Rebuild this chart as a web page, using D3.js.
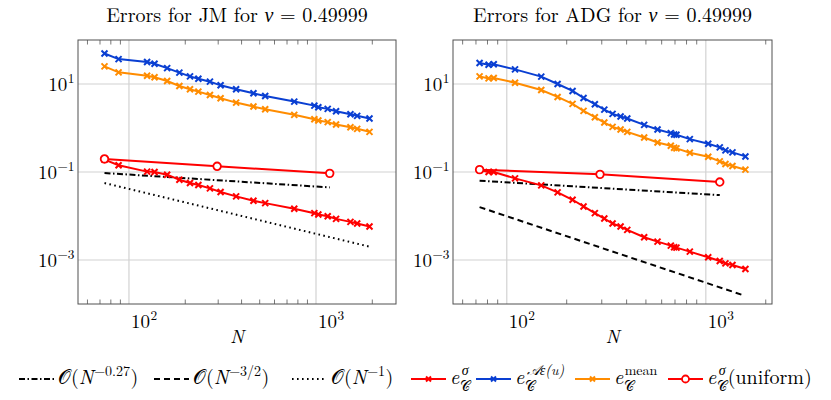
<!DOCTYPE html>
<html>
<head>
<meta charset="utf-8">
<script src="https://cdn.jsdelivr.net/npm/d3@7"></script>
<style>
  body { margin: 0; background: #fff; }
  svg text { fill: #000; white-space: pre; }
</style>
</head>
<body>
<svg id="chart" width="831" height="400"></svg>
<script>
// JM panel data
var jmN = [74, 88, 125, 137, 160, 186, 212, 235, 271, 309, 374, 463, 535, 765, 980, 1029, 1155, 1280, 1528, 1660, 1932];
var jmAeps = [49.4, 36.8, 31.5, 28.8, 23.0, 18.1, 14.9, 13.2, 11.3, 9.33, 7.57, 6.15, 5.35, 3.98, 3.23, 2.96, 2.72, 2.40, 2.06, 1.89, 1.64];
var jmMean = [25.1, 18.4, 15.4, 14.2, 11.7, 9.0, 7.57, 6.70, 5.63, 4.73, 3.78, 3.07, 2.67, 1.99, 1.58, 1.48, 1.36, 1.20, 1.04, 0.957, 0.818];
var jmSigma = [0.191, 0.142, 0.102, 0.100, 0.0869, 0.0668, 0.0561, 0.0505, 0.0424, 0.0350, 0.0279, 0.0222, 0.0196, 0.0146, 0.0116, 0.0108, 0.0099, 0.0086, 0.00736, 0.00675, 0.00575];
var jmUniN = [74, 296, 1184];
var jmUni = [0.198, 0.1346, 0.0933];
var jmSlowN = [74, 1184];
var jmSlow = [0.0949, 0.0447];
var jmOneN = [74, 1932];
var jmOne = [0.0561, 0.00201];

// ADG panel data
var adgN = [73, 81, 86, 110, 149, 180, 214, 243, 277, 309, 340, 373, 403, 490, 572, 667, 693, 712, 831, 1028, 1175, 1255, 1361, 1581];
var adgAeps = [29.9, 27.4, 28.0, 21.5, 14.7, 10.0, 6.95, 4.82, 3.47, 2.62, 2.09, 1.82, 1.64, 1.18, 0.925, 0.764, 0.713, 0.70, 0.558, 0.438, 0.362, 0.310, 0.279, 0.226];
var adgMean = [14.9, 13.4, 13.7, 10.7, 7.31, 5.08, 3.53, 2.45, 1.76, 1.33, 1.06, 0.925, 0.818, 0.609, 0.470, 0.395, 0.356, 0.344, 0.274, 0.222, 0.174, 0.152, 0.137, 0.113];
var adgSigma = [0.111, 0.100, 0.100, 0.0717, 0.0497, 0.0344, 0.0234, 0.0165, 0.0116, 0.00877, 0.00674, 0.00575, 0.00483, 0.00329, 0.00262, 0.00212, 0.00195, 0.00191, 0.00155, 0.00115, 0.000948, 0.000839, 0.000769, 0.000624];
var adgUniN = [73, 294, 1175];
var adgUni = [0.113, 0.0885, 0.0591];
var adgSlowN = [73, 1175];
var adgSlow = [0.0634, 0.0299];
var adgFastN = [73, 1538];
var adgFast = [0.0159, 0.000159];

var yTicks = [1e-3, 1e-1, 1e1];
var xTicks = [1e2, 1e3];

var RED = "#ff0000", BLUE = "#0a3fd2", ORANGE = "#ff8c00";
var FS = 19;
var FONT = "'Latin Modern Roman', 'CMU Serif', 'Liberation Serif', 'DejaVu Serif', serif";

var svg = d3.select("#chart");
var measure = svg.append("text").attr("x", 400).attr("y", 200)
  .attr("font-family", FONT).attr("visibility", "hidden");

function textWidth(t, s, it) {
  measure.attr("font-size", s).attr("font-style", it ? "italic" : "normal").text(t);
  return measure.node().getComputedTextLength();
}

// one <text> made of tspans (normal / sup / stacked sup+sub), returns width
function mathText(g, x, y, parts, size) {
  var el = g.append("text").attr("font-family", FONT).attr("font-size", size);
  var cx = x, ss = size * 0.7;
  function span(t, px, py, s, it) {
    el.append("tspan").attr("x", px).attr("y", py).attr("font-size", s)
      .attr("font-style", it ? "italic" : "normal").text(t);
    return textWidth(t, s, it);
  }
  parts.forEach(function (p) {
    if (p.stack) {
      var supIt = p.supIt !== false, off = supIt ? 2.5 : 1.5;
      var w1 = span(p.stack[0], cx + off, y - size * 0.47, ss, supIt);
      var w2 = span(p.stack[1], cx + 0.5, y + size * 0.34, ss, false);
      cx += Math.max(w1 + off, w2 + 0.5) + 1;
    } else if (p.sup) {
      cx += span(p.t, cx + 0.5, y - size * 0.42, ss, p.it) + 1;
    } else {
      cx += span(p.t, cx, y, size, p.it);
    }
  });
  measure.text("");
  return cx - x;
}

function powLabel(v) {
  var k = Math.round(Math.log10(v));
  return [{ t: "10" }, { t: String(k).replace("-", "\u2212"), sup: true }];
}

function drawPanel(cfg) {
  var allN = cfg.N.concat(cfg.extraN);
  var lo = Math.log10(d3.min(allN)), hi = Math.log10(d3.max(allN));
  var pad = 0.1 * (hi - lo);
  var x = d3.scaleLog().domain([Math.pow(10, lo - pad), Math.pow(10, hi + pad)])
    .range([cfg.left, cfg.right]);
  var y = d3.scaleLog().domain([1e-4, 1e2]).range([cfg.bottom, cfg.top]);

  var g = svg.append("g");
  var clipId = "clip" + cfg.id;
  svg.append("clipPath").attr("id", clipId).append("rect")
    .attr("x", cfg.left).attr("y", cfg.top)
    .attr("width", cfg.right - cfg.left).attr("height", cfg.bottom - cfg.top);

  // grid
  g.selectAll(".gx").data(xTicks).enter().append("line")
    .attr("x1", x).attr("x2", x).attr("y1", cfg.top).attr("y2", cfg.bottom)
    .attr("stroke", "#d2d2d2").attr("stroke-width", 1.2);
  g.selectAll(".gy").data(yTicks).enter().append("line")
    .attr("y1", y).attr("y2", y).attr("x1", cfg.left).attr("x2", cfg.right)
    .attr("stroke", "#d2d2d2").attr("stroke-width", 1.2);

  // minor x ticks top and bottom
  var minor = x.ticks().filter(function (d) {
    var l = Math.log10(d);
    return Math.abs(l - Math.round(l)) > 1e-6;
  });
  [cfg.bottom, cfg.top].forEach(function (yy, i) {
    g.selectAll(".mt" + i).data(minor).enter().append("line")
      .attr("x1", x).attr("x2", x)
      .attr("y1", yy).attr("y2", i === 0 ? yy - 4.5 : yy + 4.5)
      .attr("stroke", "#555").attr("stroke-width", 0.8);
  });

  var plot = g.append("g").attr("clip-path", "url(#" + clipId + ")");
  var line = d3.line().x(function (d) { return x(d[0]); }).y(function (d) { return y(d[1]); });

  cfg.refs.forEach(function (r) {
    plot.append("path").datum(d3.zip(r[0], r[1])).attr("d", line)
      .attr("fill", "none").attr("stroke", "#000").attr("stroke-width", 2)
      .attr("stroke-dasharray", r[2]);
  });

  function series(ns, vs, color, mark) {
    var pts = d3.zip(ns, vs);
    plot.append("path").datum(pts).attr("d", line)
      .attr("fill", "none").attr("stroke", color).attr("stroke-width", 2);
    var m = plot.selectAll(null).data(pts).enter().append("g")
      .attr("transform", function (d) { return "translate(" + x(d[0]) + "," + y(d[1]) + ")"; });
    if (mark === "x") {
      m.append("path").attr("d", "M-3,-3L3,3M-3,3L3,-3")
        .attr("stroke", color).attr("stroke-width", 2);
    } else {
      m.append("circle").attr("r", 3.8).attr("fill", "#fff")
        .attr("stroke", color).attr("stroke-width", 1.8);
    }
  }
  series(cfg.N, cfg.aeps, BLUE, "x");
  series(cfg.N, cfg.mean, ORANGE, "x");
  series(cfg.N, cfg.sigma, RED, "x");
  series(cfg.uniN, cfg.uni, RED, "o");

  // frame
  g.append("rect").attr("x", cfg.left).attr("y", cfg.top)
    .attr("width", cfg.right - cfg.left).attr("height", cfg.bottom - cfg.top)
    .attr("fill", "none").attr("stroke", "#505050").attr("stroke-width", 1);

  // y tick labels
  yTicks.forEach(function (v) {
    var w = d3.sum(powLabel(v), function (p) { return textWidth(p.t, p.sup ? FS * 0.7 : FS) + (p.sup ? 1 : 0); });
    mathText(g, cfg.left - 3 - w, y(v) + 7, powLabel(v), FS);
  });
  // x tick labels
  xTicks.forEach(function (v) {
    mathText(g, x(v) + 2, cfg.bottom + 24, powLabel(v), FS);
  });
  g.append("text").attr("x", (cfg.left + cfg.right) / 2).attr("y", cfg.bottom + 39)
    .attr("text-anchor", "middle").attr("font-family", FONT).attr("font-size", FS)
    .attr("font-style", "italic").text("N");

  // title
  var tparts = [{ t: "Errors for " + cfg.name + " for " }, { t: "\u03bd", it: true }, { t: " = 0.49999" }];
  var tw = d3.sum(tparts, function (p) { return textWidth(p.t, 20, p.it); });
  mathText(g, (cfg.left + cfg.right) / 2 - tw / 2, 22, tparts, 20);
}

drawPanel({
  id: "jm", name: "JM", left: 78, right: 396, top: 40, bottom: 304,
  N: jmN, aeps: jmAeps, mean: jmMean, sigma: jmSigma, uniN: jmUniN, uni: jmUni,
  extraN: jmUniN.concat(jmSlowN, jmOneN),
  refs: [[jmSlowN, jmSlow, "6,2.5,1.5,2.5"], [jmOneN, jmOne, "1.6,3.4"]]
});
drawPanel({
  id: "adg", name: "ADG", left: 453, right: 772, top: 40, bottom: 304,
  N: adgN, aeps: adgAeps, mean: adgMean, sigma: adgSigma, uniN: adgUniN, uni: adgUni,
  extraN: adgUniN.concat(adgSlowN, adgFastN),
  refs: [[adgSlowN, adgSlow, "6,2.5,1.5,2.5"], [adgFastN, adgFast, "6,4"]]
});

// legend
var legendItems = [
  { stroke: "#000", dash: "6,2.5,1.5,2.5", mark: null, x: 19,
    parts: [{ t: "\ud835\udcaa(" }, { t: "N", it: true }, { t: "\u22120.27", sup: true }, { t: ")" }] },
  { stroke: "#000", dash: "6,4", mark: null, x: 154,
    parts: [{ t: "\ud835\udcaa(" }, { t: "N", it: true }, { t: "\u22123/2", sup: true }, { t: ")" }] },
  { stroke: "#000", dash: "1.6,3.4", mark: null, x: 292,
    parts: [{ t: "\ud835\udcaa(" }, { t: "N", it: true }, { t: "\u22121", sup: true }, { t: ")" }] },
  { stroke: RED, dash: null, mark: "x", x: 411,
    parts: [{ t: "e", it: true }, { stack: ["\u03c3", "\ud835\udc9e"] }] },
  { stroke: BLUE, dash: null, mark: "x", x: 476,
    parts: [{ t: "e", it: true }, { stack: ["\ud835\udc9c\u03b5(u)", "\ud835\udc9e"] }] },
  { stroke: ORANGE, dash: null, mark: "x", x: 575,
    parts: [{ t: "e", it: true }, { stack: ["mean", "\ud835\udc9e"], supIt: false }] },
  { stroke: RED, dash: null, mark: "o", x: 668,
    parts: [{ t: "e", it: true }, { stack: ["\u03c3", "\ud835\udc9e"] }, { t: "(uniform)" }] }
];

var leg = svg.append("g");
var ly = 384;
legendItems.forEach(function (it) {
  var lx = it.x;
  leg.append("line").attr("x1", lx).attr("x2", lx + 35).attr("y1", ly - 5).attr("y2", ly - 5)
    .attr("stroke", it.stroke).attr("stroke-width", 2)
    .attr("stroke-dasharray", it.dash);
  if (it.mark === "x") {
    leg.append("path").attr("transform", "translate(" + (lx + 17.5) + "," + (ly - 5) + ")")
      .attr("d", "M-2.5,-2.5L2.5,2.5M-2.5,2.5L2.5,-2.5")
      .attr("stroke", it.stroke).attr("stroke-width", 2);
  } else if (it.mark === "o") {
    leg.append("circle").attr("cx", lx + 17.5).attr("cy", ly - 5).attr("r", 3.5)
      .attr("fill", "#fff").attr("stroke", it.stroke).attr("stroke-width", 1.8);
  }
  mathText(leg, lx + 39, ly, it.parts, 20);
});
</script>
</body>
</html>
